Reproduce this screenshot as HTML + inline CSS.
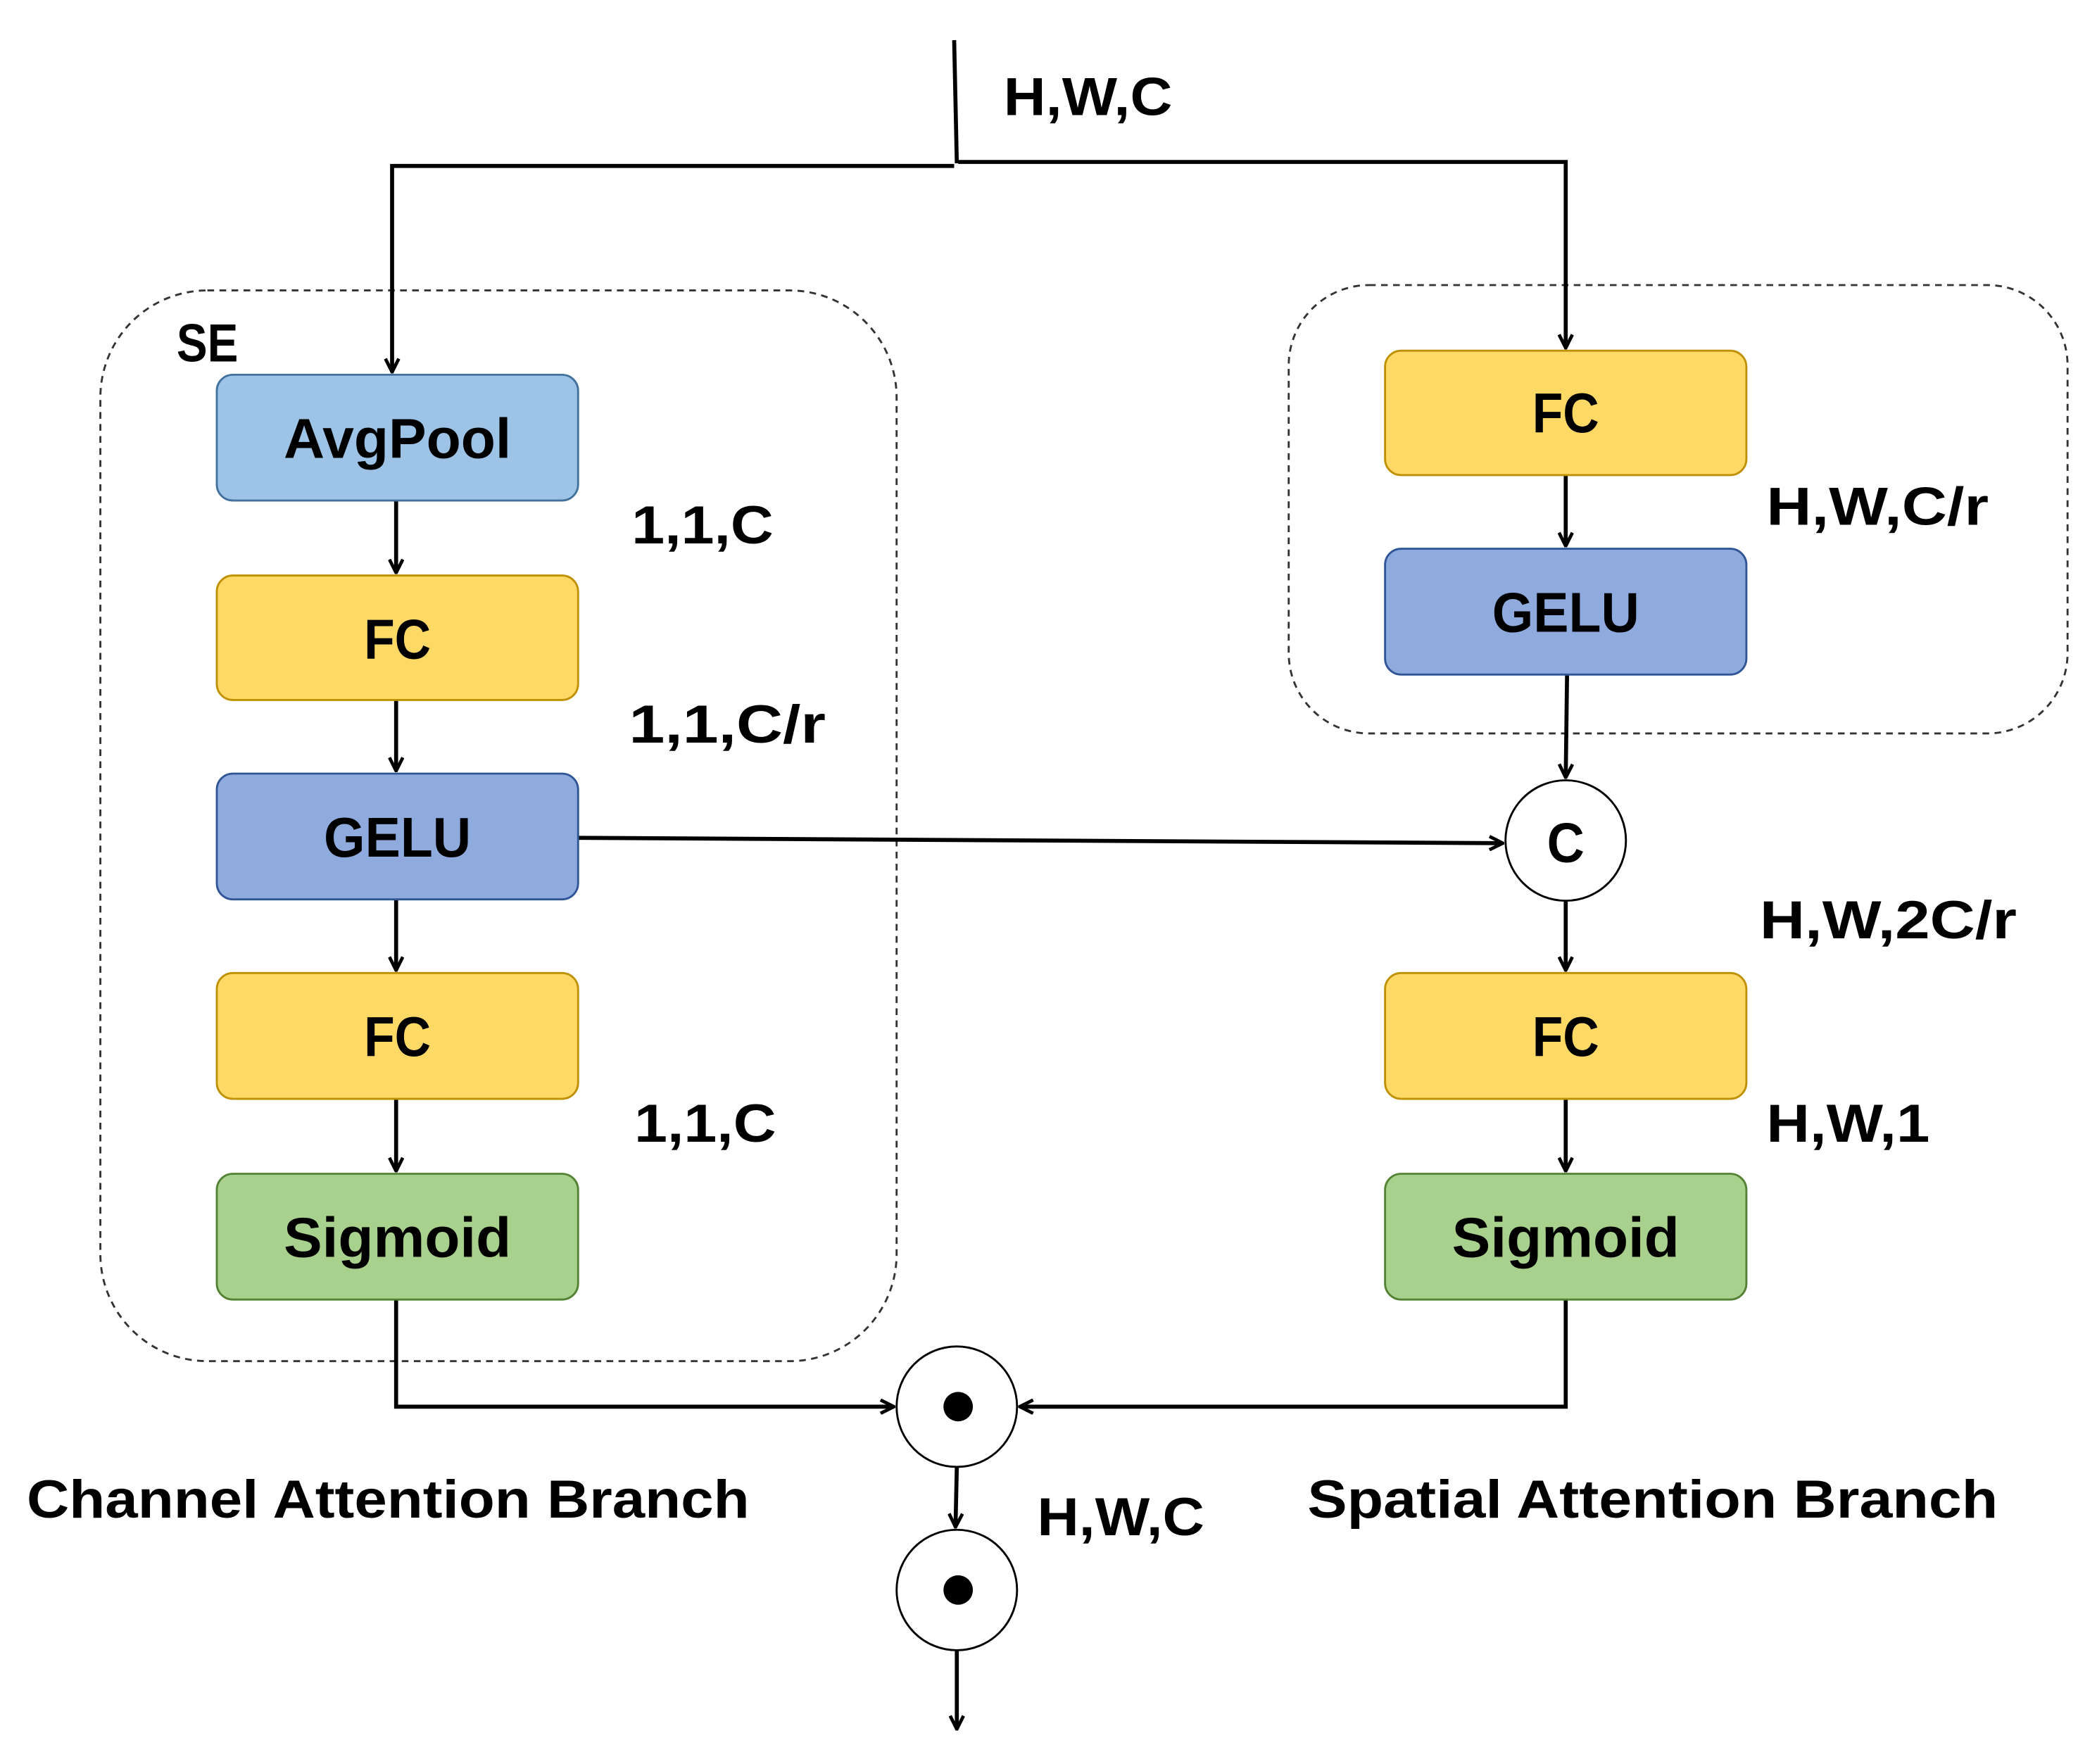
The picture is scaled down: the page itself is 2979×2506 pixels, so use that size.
<!DOCTYPE html>
<html><head><meta charset="utf-8"><style>html,body{margin:0;padding:0;background:#fff}svg{display:block}</style></head><body>
<svg width="2979" height="2506" viewBox="0 0 1567 1318" preserveAspectRatio="none" xmlns="http://www.w3.org/2000/svg">
<defs><marker id="a" markerWidth="12" markerHeight="12" refX="11" refY="6" orient="auto" markerUnits="userSpaceOnUse"><path d="M1,1 L11,6 L1,11" fill="none" stroke="#000" stroke-width="2.5"/></marker></defs>
<g font-family="Liberation Sans, sans-serif" font-weight="bold" fill="#000">
<rect x="75" y="217" width="595" height="800" rx="80" fill="none" stroke="#333" stroke-width="1.5" stroke-dasharray="5,4"/>
<rect x="963" y="213" width="582" height="335" rx="60" fill="none" stroke="#333" stroke-width="1.5" stroke-dasharray="5,4"/>
<g stroke="#000" stroke-width="3" fill="none">
<line x1="713" y1="30" x2="715" y2="122"/>
<polyline points="713,124 293,124 293,278" marker-end="url(#a)"/>
<polyline points="716,121 1170,121 1170,260" marker-end="url(#a)"/>
<line x1="296" y1="374" x2="296" y2="428" marker-end="url(#a)"/>
<line x1="296" y1="523" x2="296" y2="576" marker-end="url(#a)"/>
<line x1="296" y1="672" x2="296" y2="725" marker-end="url(#a)"/>
<line x1="296" y1="821" x2="296" y2="875" marker-end="url(#a)"/>
<line x1="1170" y1="355" x2="1170" y2="408" marker-end="url(#a)"/>
<line x1="1171" y1="504" x2="1170" y2="581" marker-end="url(#a)"/>
<line x1="1170" y1="673" x2="1170" y2="725" marker-end="url(#a)"/>
<line x1="1170" y1="821" x2="1170" y2="875" marker-end="url(#a)"/>
<line x1="432" y1="626" x2="1123" y2="630" marker-end="url(#a)"/>
<polyline points="296,971 296,1051 668,1051" marker-end="url(#a)"/>
<polyline points="1170,971 1170,1051 762,1051" marker-end="url(#a)"/>
<line x1="715" y1="1096" x2="714" y2="1141" marker-end="url(#a)"/>
<line x1="715" y1="1233" x2="715" y2="1292" marker-end="url(#a)"/>
</g>
<g stroke-width="1.5">
<rect x="162" y="280" width="270" height="94" rx="12" fill="#9DC3E6" stroke="#41719C"/>
<rect x="162" y="430" width="270" height="93" rx="12" fill="#FFD966" stroke="#BF9000"/>
<rect x="162" y="578" width="270" height="94" rx="12" fill="#8FAADC" stroke="#2F5597"/>
<rect x="162" y="727" width="270" height="94" rx="12" fill="#FFD966" stroke="#BF9000"/>
<rect x="162" y="877" width="270" height="94" rx="12" fill="#A9D18E" stroke="#548235"/>
<rect x="1035" y="262" width="270" height="93" rx="12" fill="#FFD966" stroke="#BF9000"/>
<rect x="1035" y="410" width="270" height="94" rx="12" fill="#8FAADC" stroke="#2F5597"/>
<rect x="1035" y="727" width="270" height="94" rx="12" fill="#FFD966" stroke="#BF9000"/>
<rect x="1035" y="877" width="270" height="94" rx="12" fill="#A9D18E" stroke="#548235"/>
<circle cx="1170" cy="628" r="45" fill="#fff" stroke="#000"/>
<circle cx="715" cy="1051" r="45" fill="#fff" stroke="#000"/>
<circle cx="715" cy="1188" r="45" fill="#fff" stroke="#000"/>
</g>
<circle cx="716" cy="1051" r="11"/><circle cx="716" cy="1188" r="11"/>
<g font-size="42" text-anchor="middle">
<text x="297" y="342" textLength="170" lengthAdjust="spacingAndGlyphs">AvgPool</text>
<text x="297" y="492" textLength="50" lengthAdjust="spacingAndGlyphs">FC</text>
<text x="297" y="640" textLength="110" lengthAdjust="spacingAndGlyphs">GELU</text>
<text x="297" y="789" textLength="50" lengthAdjust="spacingAndGlyphs">FC</text>
<text x="297" y="939" textLength="170" lengthAdjust="spacingAndGlyphs">Sigmoid</text>
<text x="1170" y="323" textLength="50" lengthAdjust="spacingAndGlyphs">FC</text>
<text x="1170" y="472" textLength="110" lengthAdjust="spacingAndGlyphs">GELU</text>
<text x="1170" y="789" textLength="50" lengthAdjust="spacingAndGlyphs">FC</text>
<text x="1170" y="939" textLength="170" lengthAdjust="spacingAndGlyphs">Sigmoid</text>
<text x="1170" y="644" textLength="28" lengthAdjust="spacingAndGlyphs">C</text>
</g>
<g font-size="40">
<text x="750" y="86" textLength="126" lengthAdjust="spacingAndGlyphs">H,W,C</text>
<text x="132" y="270" textLength="46" lengthAdjust="spacingAndGlyphs">SE</text>
<text x="472" y="406" textLength="106" lengthAdjust="spacingAndGlyphs">1,1,C</text>
<text x="470" y="555" textLength="147" lengthAdjust="spacingAndGlyphs">1,1,C/r</text>
<text x="474" y="853" textLength="106" lengthAdjust="spacingAndGlyphs">1,1,C</text>
<text x="1320" y="392" textLength="166" lengthAdjust="spacingAndGlyphs">H,W,C/r</text>
<text x="1315" y="701" textLength="192" lengthAdjust="spacingAndGlyphs">H,W,2C/r</text>
<text x="1320" y="853" textLength="122" lengthAdjust="spacingAndGlyphs">H,W,1</text>
<text x="775" y="1147" textLength="125" lengthAdjust="spacingAndGlyphs">H,W,C</text>
<text x="20" y="1134" textLength="540" lengthAdjust="spacingAndGlyphs">Channel Attention Branch</text>
<text x="977" y="1134" textLength="516" lengthAdjust="spacingAndGlyphs">Spatial Attention Branch</text>
</g>
</g>
</svg>
</body></html>
